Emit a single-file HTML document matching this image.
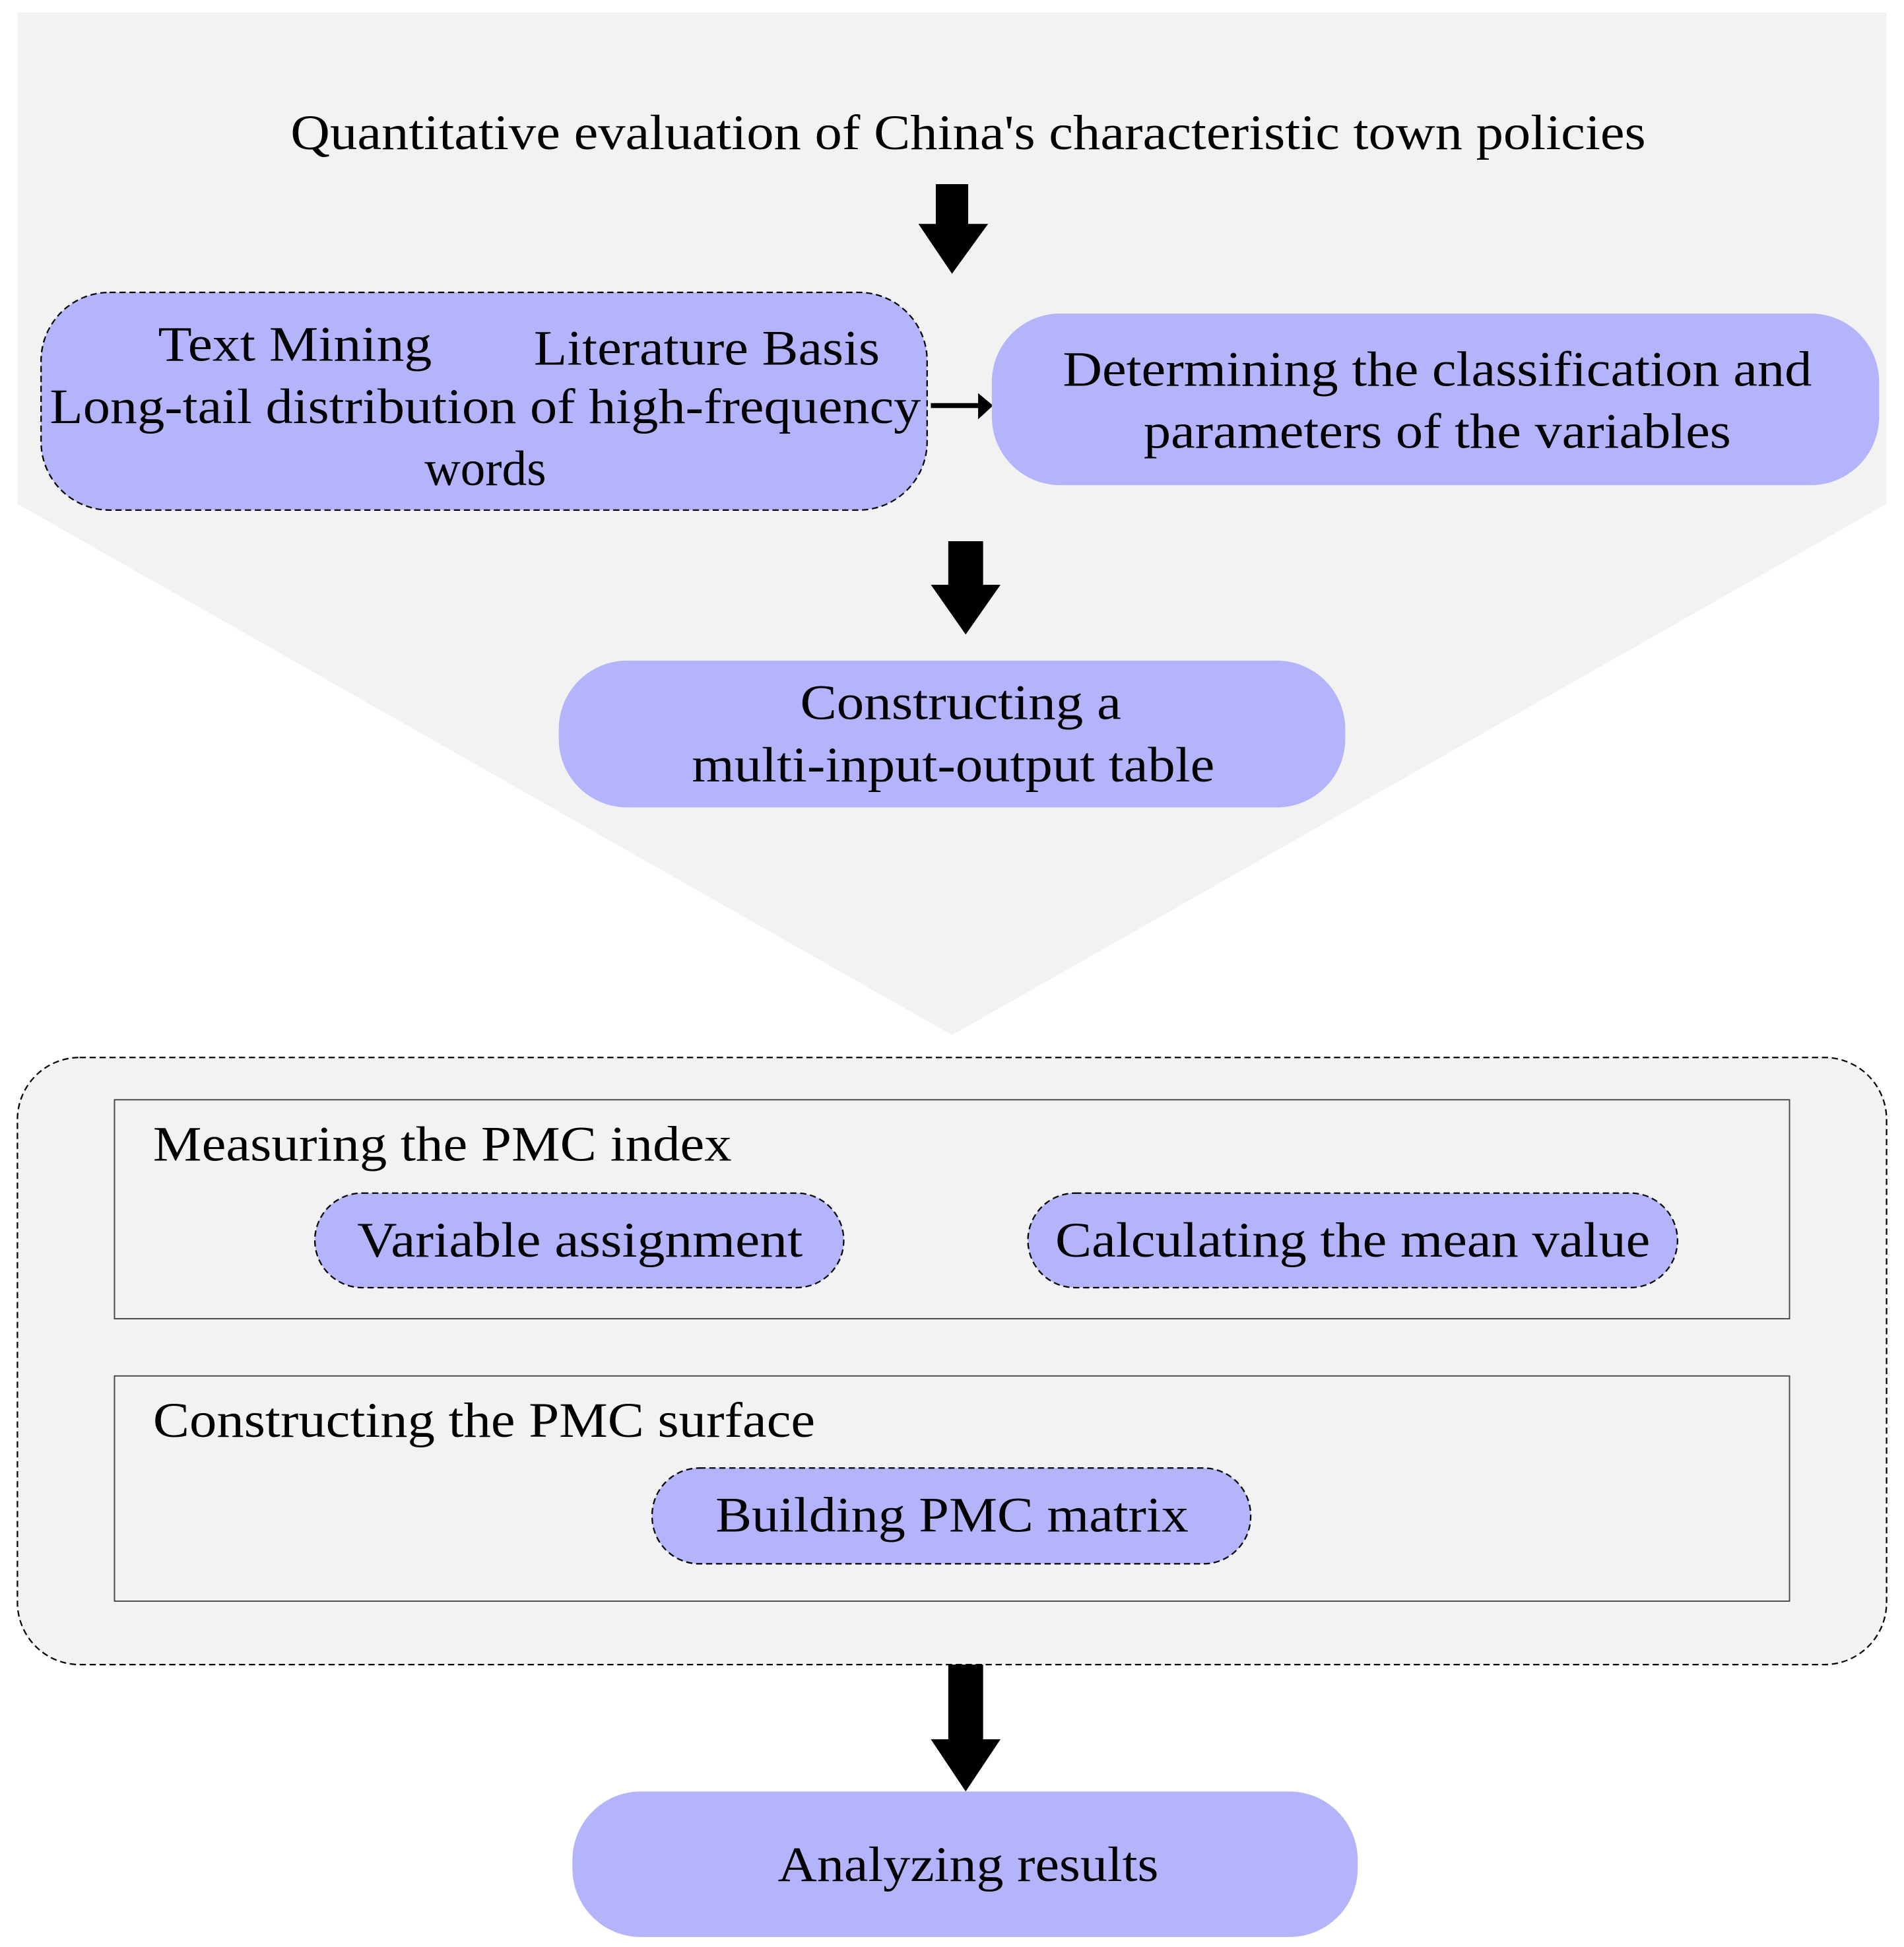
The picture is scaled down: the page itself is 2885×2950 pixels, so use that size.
<!DOCTYPE html>
<html><head><meta charset="utf-8"><style>
html,body{margin:0;padding:0;background:#fff;}
svg{display:block;}
text{font-family:"Liberation Serif","Times New Roman",serif;font-size:40px;fill:#000;}
</style></head><body>
<svg width="2885" height="2950" viewBox="0 0 1530 1565" preserveAspectRatio="none" xmlns="http://www.w3.org/2000/svg">
<rect width="1530" height="1565" fill="#fff"/>
<polygon points="14,10 1516,10 1516,405 765,832 14,405" fill="#f2f2f2"/>
<text x="778" y="120" text-anchor="middle" textLength="1089" lengthAdjust="spacingAndGlyphs">Quantitative evaluation of China's characteristic town policies</text>
<polygon points="752,148 778,148 778,180 794,180 765,220 738,180 752,180" fill="#000"/>
<rect x="33" y="235" width="712" height="175" rx="55" fill="#b5b3fb" stroke="#000" stroke-width="1.2" stroke-dasharray="5,3"/>
<text x="237" y="290" text-anchor="middle" textLength="220" lengthAdjust="spacingAndGlyphs">Text Mining</text>
<text x="568" y="293" text-anchor="middle" textLength="278" lengthAdjust="spacingAndGlyphs">Literature Basis</text>
<text x="390" y="340" text-anchor="middle" textLength="700" lengthAdjust="spacingAndGlyphs">Long-tail distribution of high-frequency</text>
<text x="390" y="390" text-anchor="middle">words</text>
<line x1="748" y1="326" x2="788" y2="326" stroke="#000" stroke-width="4"/>
<polygon points="786,316 798,326 786,337" fill="#000"/>
<rect x="797" y="252" width="713" height="138" rx="55" fill="#b5b3fb"/>
<text x="1155" y="310" text-anchor="middle" textLength="602" lengthAdjust="spacingAndGlyphs">Determining the classification and</text>
<text x="1155" y="360" text-anchor="middle" textLength="472" lengthAdjust="spacingAndGlyphs">parameters of the variables</text>
<polygon points="762,435 790,435 790,470 804,470 776,510 748,470 762,470" fill="#000"/>
<rect x="449" y="531" width="632" height="118" rx="55" fill="#b5b3fb"/>
<text x="772" y="578" text-anchor="middle" textLength="258" lengthAdjust="spacingAndGlyphs">Constructing a</text>
<text x="766" y="628" text-anchor="middle" textLength="420" lengthAdjust="spacingAndGlyphs">multi-input-output table</text>
<rect x="14" y="850" width="1502" height="488" rx="50" fill="#f2f2f2" stroke="#000" stroke-width="1.2" stroke-dasharray="5,3"/>
<rect x="92" y="884" width="1346" height="176" fill="none" stroke="#444" stroke-width="1"/>
<text x="123" y="933" textLength="465" lengthAdjust="spacingAndGlyphs">Measuring the PMC index</text>
<rect x="253" y="959" width="425" height="76" rx="38" fill="#b5b3fb" stroke="#000" stroke-width="1.2" stroke-dasharray="5,3"/>
<text x="466" y="1010" text-anchor="middle" textLength="358" lengthAdjust="spacingAndGlyphs">Variable assignment</text>
<rect x="826" y="959" width="522" height="76" rx="38" fill="#b5b3fb" stroke="#000" stroke-width="1.2" stroke-dasharray="5,3"/>
<text x="1087" y="1010" text-anchor="middle" textLength="478" lengthAdjust="spacingAndGlyphs">Calculating the mean value</text>
<rect x="92" y="1106" width="1346" height="181" fill="none" stroke="#444" stroke-width="1"/>
<text x="123" y="1155" textLength="532" lengthAdjust="spacingAndGlyphs">Constructing the PMC surface</text>
<rect x="524" y="1180" width="481" height="77" rx="38" fill="#b5b3fb" stroke="#000" stroke-width="1.2" stroke-dasharray="5,3"/>
<text x="765" y="1231" text-anchor="middle" textLength="380" lengthAdjust="spacingAndGlyphs">Building PMC matrix</text>
<polygon points="762,1338 790,1338 790,1398 804,1398 776,1440 748,1398 762,1398" fill="#000"/>
<rect x="460" y="1440" width="631" height="117" rx="55" fill="#b5b3fb"/>
<text x="778" y="1512" text-anchor="middle" textLength="306" lengthAdjust="spacingAndGlyphs">Analyzing results</text>
</svg>
</body></html>
